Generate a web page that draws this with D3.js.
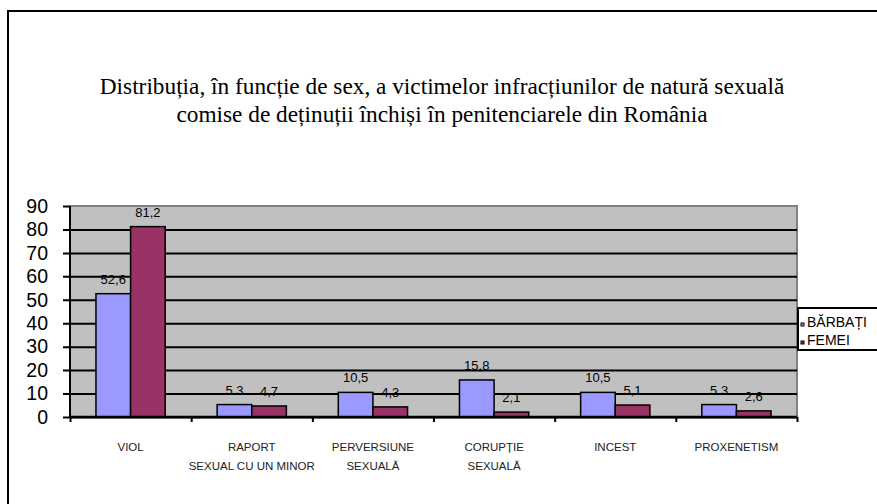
<!DOCTYPE html>
<html lang="ro">
	<head>
		<meta charset="utf-8">
		<title>victime infractiuni sexuale</title>
		<script type="text/javascript" src="https://cdn.jsdelivr.net/npm/d3@7"></script>
		<style type="text/css">
			body { margin: 0; background: #fff; }
			svg { display: block; }
		</style>
	</head>

	<body>
        <script type="text/javascript">

            // data
            var categories = ["VIOL", "RAPORT|SEXUAL CU UN MINOR", "PERVERSIUNE|SEXUALĂ", "CORUPȚIE|SEXUALĂ", "INCEST", "PROXENETISM"];
            var barbati = [52.6, 5.3, 10.5, 15.8, 10.5, 5.3];
            var femei = [81.2, 4.7, 4.3, 2.1, 5.1, 2.6];
            var barbatiLabels = ["52,6", "5.3", "10,5", "15,8", "10,5", "5.3"];
            var femeiLabels = ["81,2", "4,7", "4,3", "2,1", "5,1", "2,6"];
            var seriesNames = ["BĂRBAȚI", "FEMEI"];
            var yTicks = [0, 10, 20, 30, 40, 50, 60, 70, 80, 90];
            var titleLines = [
                "Distribuția, în funcție de sex, a victimelor infracțiunilor de natură sexuală",
                "comise de deținuții închiși în penitenciarele din România"
            ];

            var w = 877;
            var h = 504;
            var plot = {left: 70, right: 797, top: 206, bottom: 417};
            var colors = ["#9999FF", "#993366"];

            var svg = d3.select("body")
                .append("svg")
                .attr("width", w)
                .attr("height", h);

            // outer chart border (runs off the right and bottom)
            svg.append("rect")
                .attr("x", 8).attr("y", 11)
                .attr("width", 900).attr("height", 520)
                .attr("fill", "white")
                .attr("stroke", "black")
                .attr("stroke-width", 2);

            // title
            svg.append("g").selectAll("text")
                .data(titleLines)
                .enter()
                .append("text")
                .attr("x", 442)
                .attr("y", function(d, i) { return 94 + i * 28; })
                .attr("text-anchor", "middle")
                .style("font-family", "'Liberation Serif', 'Times New Roman', serif")
                .style("font-size", "23.3px")
                .text(function(d) { return d; });

            var xScale = d3.scaleBand()
                .domain(d3.range(categories.length))
                .range([plot.left, plot.right])
                .paddingInner(0)
                .paddingOuter(0);

            var barW = xScale.bandwidth() / 3.5;

            var yScale = d3.scaleLinear()
                .domain([0, 90])
                .range([plot.bottom, plot.top]);

            // plot background
            svg.append("rect")
                .attr("x", plot.left)
                .attr("y", plot.top)
                .attr("width", plot.right - plot.left)
                .attr("height", plot.bottom - plot.top)
                .attr("fill", "#C0C0C0")
                .attr("stroke", "#808080")
                .attr("stroke-width", 2);

            // y axis with gridlines
            var yAxis = d3.axisLeft(yScale)
                .tickValues(yTicks)
                .tickSize(-(plot.right - plot.left))
                .tickPadding(22)
                .tickFormat(d3.format("d"));

            var gy = svg.append("g")
                .attr("transform", "translate(" + plot.left + ",0)")
                .call(yAxis);
            gy.select(".domain").remove();
            gy.selectAll(".tick line")
                .attr("x1", -7)
                .attr("stroke", "black")
                .attr("stroke-width", 2)
                .filter(function(d) { return d == 90; })
                .attr("x1", -7).attr("x2", 0);
            gy.selectAll(".tick text")
                .style("font-family", "Arial, 'Liberation Sans', sans-serif")
                .style("font-size", "19.5px")
                .attr("fill", "black");

            // y axis line
            svg.append("line")
                .attr("x1", plot.left).attr("x2", plot.left)
                .attr("y1", plot.top).attr("y2", plot.bottom)
                .attr("stroke", "black").attr("stroke-width", 2);

            // bars
            var series = [barbati, femei];
            var labels = [barbatiLabels, femeiLabels];

            series.forEach(function(vals, s) {
                svg.append("g").selectAll("rect")
                    .data(vals)
                    .enter()
                    .append("rect")
                    .attr("x", function(d, i) { return xScale(i) + barW * 0.75 + s * barW; })
                    .attr("y", function(d) { return yScale(d); })
                    .attr("width", barW)
                    .attr("height", function(d) { return yScale(0) - yScale(d); })
                    .attr("fill", colors[s])
                    .attr("stroke", "black")
                    .attr("stroke-width", 1.5);

                svg.append("g").selectAll("text")
                    .data(vals)
                    .enter()
                    .append("text")
                    .attr("x", function(d, i) { return xScale(i) + barW * 1.25 + s * barW; })
                    .attr("y", function(d) { return yScale(d) - 10; })
                    .attr("text-anchor", "middle")
                    .style("font-family", "Arial, 'Liberation Sans', sans-serif")
                    .style("font-size", "13px")
                    .text(function(d, i) { return labels[s][i]; });
            });

            // x axis
            var xAxisScale = d3.scaleLinear()
                .domain([0, categories.length])
                .range([plot.left, plot.right]);

            var gx = svg.append("g")
                .attr("transform", "translate(0," + plot.bottom + ")")
                .call(d3.axisBottom(xAxisScale).ticks(categories.length).tickSize(5).tickFormat(""));
            gx.select(".domain")
                .attr("d", "M" + plot.left + ",0H" + plot.right)
                .attr("stroke", "black").attr("stroke-width", 2.5);
            gx.selectAll(".tick line").attr("stroke", "black").attr("stroke-width", 2);

            // category labels
            var catG = svg.append("g").selectAll("text")
                .data(categories)
                .enter()
                .append("text")
                .attr("text-anchor", "middle")
                .attr("transform", function(d, i) {
                    return "translate(" + (xScale(i) + xScale.bandwidth() / 2) + ",451)";
                })
                .style("font-family", "Arial, 'Liberation Sans', sans-serif")
                .style("font-size", "11.5px")
                .attr("fill", "#222");
            catG.selectAll("tspan")
                .data(function(d) { return d.split("|"); })
                .enter()
                .append("tspan")
                .attr("x", 0)
                .attr("dy", function(d, i) { return i == 0 ? 0 : 19; })
                .text(function(d) { return d; });

            // legend
            var leg = svg.append("g").attr("transform", "translate(798,308)");
            leg.append("rect")
                .attr("x", 0).attr("y", 0)
                .attr("width", 90).attr("height", 42)
                .attr("fill", "white")
                .attr("stroke", "black")
                .attr("stroke-width", 2);
            seriesNames.forEach(function(name, i) {
                leg.append("rect")
                    .attr("x", 3).attr("y", 15 + i * 18)
                    .attr("width", 3).attr("height", 3)
                    .attr("fill", colors[i])
                    .attr("stroke", "black")
                    .attr("stroke-width", 1);
                leg.append("text")
                    .attr("x", 9)
                    .attr("y", 19 + i * 18)
                    .style("font-family", "Arial, 'Liberation Sans', sans-serif")
                    .style("font-size", "14px")
                    .text(name);
            });

        </script>
	</body>
</html>
